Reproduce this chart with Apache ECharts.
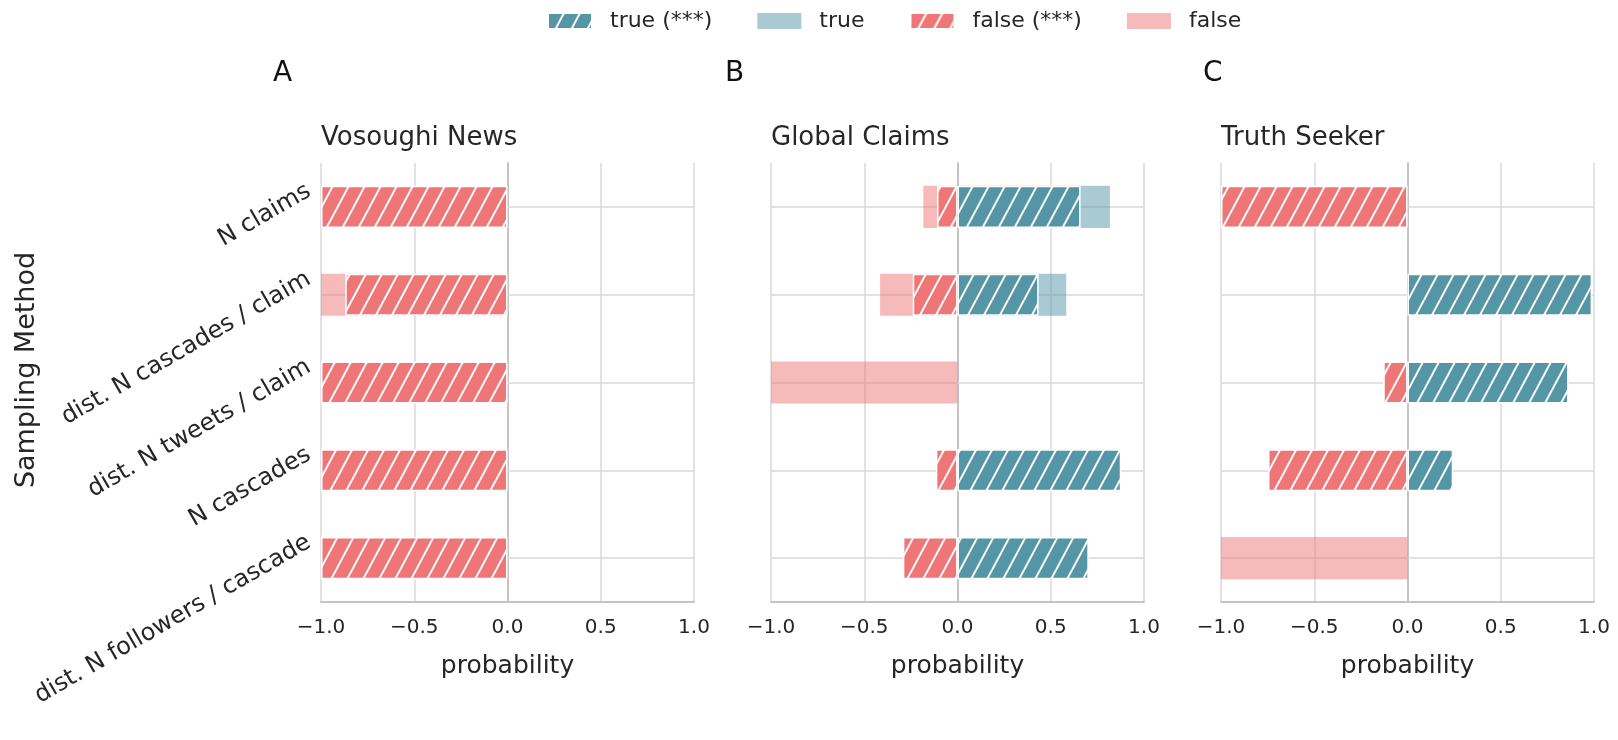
<!DOCTYPE html>
<html>
<head>
<meta charset="utf-8">
<script src="https://cdn.jsdelivr.net/npm/echarts@6/dist/echarts.min.js"></script>
<style>
  html, body { margin: 0; padding: 0; background: #fff; }
  #chart { width: 1618px; height: 740px; }
</style>
</head>
<body>
<div id="chart"></div>
<script>
// ---------- data ----------
const categories = ['N claims', 'dist. N cascades / claim', 'dist. N tweets / claim', 'N cascades', 'dist. N followers / cascade'];
const tickLabels = ['\u22121.0', '\u22120.5', '0.0', '0.5', '1.0'];
const panelTitles = ['Vosoughi News', 'Global Claims', 'Truth Seeker'];
const panelLetters = ['A', 'B', 'C'];
const legendNames = ['true (***)', 'true', 'false (***)', 'false'];
const axisTitleX = 'probability';
const axisTitleY = 'Sampling Method';

// Vosoughi News
const vosoughiTrueSig   = [null, null, null, null, null];
const vosoughiTrue      = [null, null, null, null, null];
const vosoughiFalseSig  = [-1.0, -0.87, -1.0, -1.0, -1.0];
const vosoughiFalse     = [null, -1.0, null, null, null];
// Global Claims
const globalTrueSig     = [0.66, 0.435, null, 0.878, 0.704];
const globalTrue        = [0.817, 0.583, null, null, null];
const globalFalseSig    = [-0.11, -0.24, null, -0.116, -0.293];
const globalFalse       = [-0.183, -0.415, -1.0, null, null];
// Truth Seeker
const seekerTrueSig     = [null, 0.99, 0.864, 0.245, null];
const seekerTrue        = [null, null, null, null, null];
const seekerFalseSig    = [-1.0, null, -0.13, -0.748, null];
const seekerFalse       = [null, null, null, null, -1.0];

// ---------- styling ----------
const FONT = 'DejaVu Sans';
const TXT = '#262626';
const RED = '#EF7676';
const BLUE = '#5495A6';
const RED_LIGHT = 'rgba(239,118,118,0.5)';
const BLUE_LIGHT = 'rgba(84,149,166,0.5)';
const GRID_COLOR = '#d8d8d8';
const AXIS_COLOR = '#c4c4c4';

function hatch(color) {
  const W = 16, H = 30;
  const c = document.createElement('canvas');
  c.width = W; c.height = H;
  const ctx = c.getContext('2d');
  ctx.fillStyle = color;
  ctx.fillRect(0, 0, W, H);
  ctx.strokeStyle = '#ffffff';
  ctx.lineWidth = 2;
  for (const dx of [-W, 0, W]) {
    ctx.beginPath();
    ctx.moveTo(dx, H);
    ctx.lineTo(dx + W, 0);
    ctx.stroke();
  }
  return { image: c, repeat: 'repeat' };
}
const RED_HATCH = hatch(RED);
const BLUE_HATCH = hatch(BLUE);

const gridLefts = [321, 771, 1221];
const gridWidth = 373;
const gridTop = 163;
const gridHeight = 439;
const letterLefts = [273, 725, 1203];

const panels = [
  [vosoughiTrueSig, vosoughiTrue, vosoughiFalseSig, vosoughiFalse],
  [globalTrueSig, globalTrue, globalFalseSig, globalFalse],
  [seekerTrueSig, seekerTrue, seekerFalseSig, seekerFalse]
];

const grids = [], xAxes = [], yAxes = [], series = [], titles = [];
panels.forEach((p, i) => {
  grids.push({ left: gridLefts[i], top: gridTop, width: gridWidth, height: gridHeight, containLabel: false });
  xAxes.push({
    type: 'value', gridIndex: i, min: -1, max: 1, interval: 0.5,
    axisLine: { show: true, lineStyle: { color: AXIS_COLOR, width: 2 } },
    axisTick: { show: false },
    splitLine: { show: true, lineStyle: { color: GRID_COLOR, width: 1.5 } },
    axisLabel: {
      fontFamily: FONT, fontSize: 20, color: TXT, margin: 16,
      formatter: v => tickLabels[Math.round((v + 1) / 0.5)]
    },
    name: axisTitleX, nameLocation: 'middle', nameGap: 52,
    nameTextStyle: { fontFamily: FONT, fontSize: 25, color: TXT }
  });
  yAxes.push({
    type: 'category', gridIndex: i, data: categories, inverse: true,
    axisLine: { show: true, lineStyle: { color: AXIS_COLOR, width: 2 } },
    axisTick: { show: false },
    splitLine: { show: false },
    axisLabel: {
      show: i === 0, rotate: 30, margin: 2,
      verticalAlign: 'bottom', padding: [0, 0, 8, 0],
      fontFamily: FONT, fontSize: 24, color: TXT
    }
  });
  const base = { type: 'bar', xAxisIndex: i, yAxisIndex: i, barWidth: '48%', barGap: '-100%', emphasis: { disabled: true } };
  const [tSig, tLight, fSig, fLight] = p;
  series.push(Object.assign({}, base, {
    name: 'false', data: fLight, itemStyle: { color: RED_LIGHT },
    markLine: {
      silent: true, symbol: 'none', z: 1, label: { show: false },
      lineStyle: { color: GRID_COLOR, width: 1.5, type: 'solid' },
      data: categories.map((c, k) => ({ yAxis: k }))
    }
  }));
  series.push(Object.assign({}, base, { name: 'true', data: tLight, itemStyle: { color: BLUE_LIGHT } }));
  series.push(Object.assign({}, base, { name: 'false (***)', data: fSig, itemStyle: { color: RED_HATCH, borderColor: '#fff', borderWidth: 1.5 } }));
  series.push(Object.assign({}, base, { name: 'true (***)', data: tSig, itemStyle: { color: BLUE_HATCH, borderColor: '#fff', borderWidth: 1.5 } }));
  titles.push({
    text: panelTitles[i], left: gridLefts[i], top: 125, padding: 0,
    textStyle: { fontFamily: FONT, fontSize: 26, fontWeight: 'normal', color: TXT }
  });
  titles.push({
    text: panelLetters[i], left: letterLefts[i], top: 60, padding: 0,
    textStyle: { fontFamily: FONT, fontSize: 28, fontWeight: 'normal', color: '#111' }
  });
});

const chart = echarts.init(document.getElementById('chart'), null, { renderer: 'canvas' });
chart.setOption({
  animation: false,
  backgroundColor: '#ffffff',
  title: titles,
  legend: {
    data: legendNames,
    left: 547, top: 10, padding: 0,
    itemWidth: 44, itemHeight: 16, itemGap: 45,
    icon: 'rect',
    textStyle: { fontFamily: FONT, fontSize: 22, color: TXT, padding: [0, 0, 0, 13] }
  },
  graphic: [{
    type: 'text', x: 27, y: 370, rotation: Math.PI / 2,
    style: {
      text: axisTitleY, fontFamily: FONT, fontSize: 27, fill: TXT,
      align: 'center', verticalAlign: 'middle', textAlign: 'center', textVerticalAlign: 'middle'
    }
  }],
  grid: grids,
  xAxis: xAxes,
  yAxis: yAxes,
  series: series
});
</script>
</body>
</html>
